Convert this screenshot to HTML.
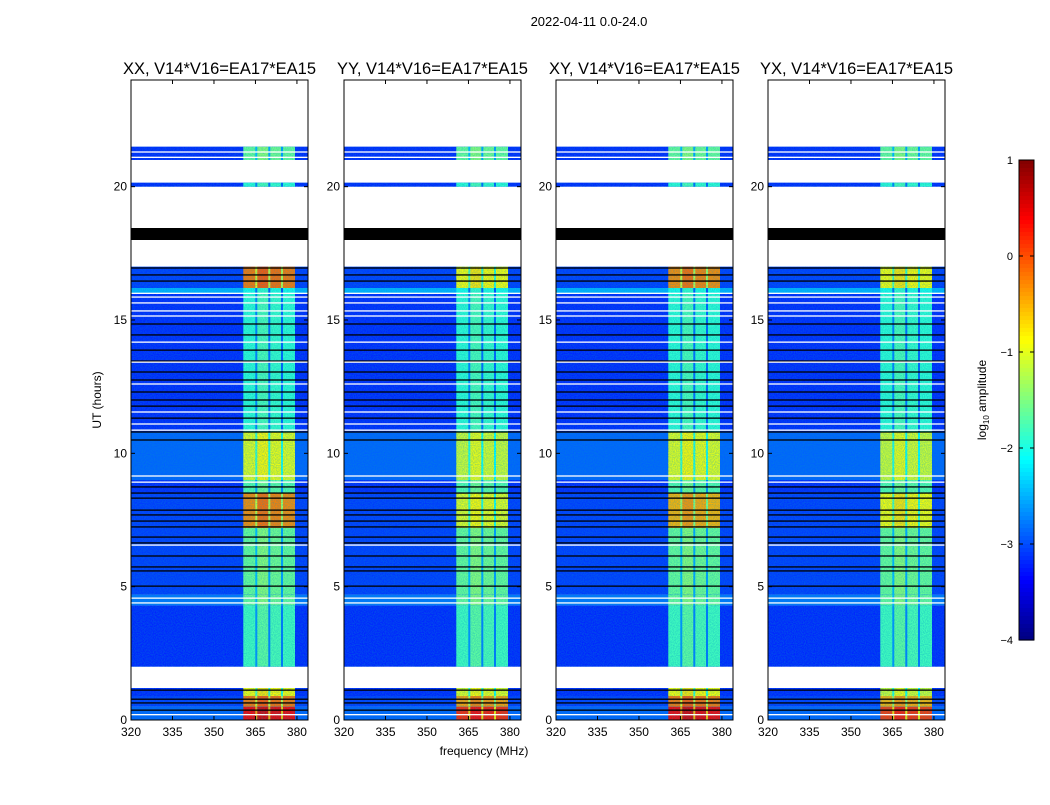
<!DOCTYPE html>
<html><head><meta charset="utf-8">
<style>
body{margin:0;background:#fff;}
svg text{font-family:"Liberation Sans",sans-serif;fill:#000;}
</style></head>
<body>
<svg id="fig" width="1050" height="800" xmlns="http://www.w3.org/2000/svg">
<defs>
<filter id="noise" x="0" y="0" width="100%" height="100%">
<feTurbulence type="fractalNoise" baseFrequency="0.9" numOctaves="2" seed="3"/>
<feColorMatrix type="matrix" values="0 0 0 0 0  0 0 0 0 0.3  0 0 0 0 0.6  0 0 0 -2.2 1.6"/>
</filter>
</defs>
<rect width="1050" height="800" fill="#fff"/>
<text x="589" y="26" font-size="13" text-anchor="middle">2022-04-11 0.0-24.0</text>
<text transform="translate(101,400) rotate(-90)" font-size="12" text-anchor="middle">UT (hours)</text>
<text x="484" y="755" font-size="12" text-anchor="middle">frequency (MHz)</text>
<g id="panels"></g>
<g id="cbar"></g>
</svg>
<script>
// ---- data ----
const panelTitles = ["XX, V14*V16=EA17*EA15","YY, V14*V16=EA17*EA15","XY, V14*V16=EA17*EA15","YX, V14*V16=EA17*EA15"];
const segStart = [0,0.5,0.9,2.0,4.3,4.7,7.2,8.5,9.0,10.8,16.0,16.2,20.0,21.0];
const segEnd   = [0.5,0.9,1.2,4.3,4.7,7.2,8.5,9.0,10.8,16.0,16.2,17.0,20.15,21.5];
const segBg    = [-2.9,-3.1,-3.2,-3.2,-2.8,-3.1,-3.1,-3.2,-2.9,-3.2,-2.5,-3.1,-3.2,-3.2];
const bandXX = [0.4,-0.2,-0.9,-1.8,-1.6,-1.6,-0.3,-1.7,-1.0,-1.9,-2.0,-0.2,-1.9,-1.6];
const bandYY = [0.2,-0.4,-1.0,-1.8,-1.6,-1.6,-1.0,-1.7,-1.1,-1.9,-2.0,-0.9,-1.9,-1.6];
const bandXY = [0.4,-0.2,-0.9,-1.8,-1.6,-1.6,-0.5,-1.7,-1.0,-1.9,-2.0,-0.3,-1.9,-1.6];
const bandYX = [0.1,-0.5,-1.1,-1.8,-1.6,-1.6,-0.9,-1.7,-1.1,-1.9,-2.0,-0.9,-1.9,-1.6];
const bandLevels = [bandXX,bandYY,bandXY,bandYX];
const subStart = [360.6,365.3,370.0,374.6];
const subEnd   = [365.3,370.0,374.6,379.3];
const subOffset = [0,0.15,0.05,0];
const blackBlock = [18.0,18.45];
const blackLines = [0.37,0.64,0.78,1.12,5.02,5.59,5.74,6.15,6.64,6.86,7.24,7.46,7.69,7.87,8.32,8.51,8.74,10.5,10.8,11.32,11.77,12.0,12.3,12.75,13.05,13.46,13.87,14.44,14.85,16.46,16.69,16.95];
const whiteLines = [0.2,4.39,4.57,6.56,8.92,9.15,10.87,11.1,11.55,12.6,13.42,14.17,15.15,15.34,15.64,15.86,16.0,21.1,21.3];
const yTicks = [0,5,10,15,20];
const xTicks = [320,335,350,365,380];
const cbTicks = [1,0,-1,-2,-3,-4];
// ---- layout ----
const panelLeft=[131,344,556,768], PW=177, PT=80, PB=720;
const F0=320,F1=384,H0=0,H1=24;
const yH=h=>PB-(h-H0)/(H1-H0)*(PB-PT);
const xF=(L,f)=>L+(f-F0)/(F1-F0)*PW;
function jet(v){let t=(v+4)/5;t=Math.max(0,Math.min(1,t));
 const c=x=>Math.max(0,Math.min(1,x));
 const r=c(Math.min(4*t-1.5,-4*t+4.5)),g=c(Math.min(4*t-0.5,-4*t+3.5)),b=c(Math.min(4*t+0.5,-4*t+2.5));
 return `rgb(${Math.round(r*255)},${Math.round(g*255)},${Math.round(b*255)})`;}
const NS="http://www.w3.org/2000/svg";
function mk(tag,attrs,parent){const e=document.createElementNS(NS,tag);for(const k in attrs)e.setAttribute(k,attrs[k]);parent.appendChild(e);return e;}
const root=document.getElementById('panels');
panelLeft.forEach((L,p)=>{
 const g=mk('g',{},root);
 
 
 const t=mk('text',{x:L+PW/2,y:74,'font-size':16.5,'text-anchor':'middle'},g);t.textContent=panelTitles[p];
 
 
 segStart.forEach((s,i)=>{
  const y0=yH(segEnd[i]),y1=yH(s);
  const r=mk('rect',{x:L,y:y0,width:PW,height:y1-y0,fill:jet(segBg[i])},g);
  
  
  subStart.forEach((f,k)=>{
   const v=bandLevels[p][i]+subOffset[k];
   const b=mk('rect',{x:xF(L,f),y:y0,width:xF(L,subEnd[k])-xF(L,f),height:y1-y0,fill:jet(v)},g);
   
   
   if(k>0){const gp=mk('rect',{x:xF(L,f)-1,y:y0,width:2,height:y1-y0,fill:jet(v-1.0)},g);
    
    }
  });
  const n=mk('rect',{x:L,y:y0,width:PW,height:y1-y0,filter:'url(#noise)',opacity:0.35},g);
  
  
 });
 const bb=mk('rect',{x:L,y:yH(blackBlock[1]),width:PW,height:yH(blackBlock[0])-yH(blackBlock[1]),fill:'#000'},g);
 
 
 blackLines.forEach(h=>{const l=mk('rect',{x:L,y:yH(h)-0.65,width:PW,height:1.3,fill:'#000'},g);
  
  });
 whiteLines.forEach(h=>{const l=mk('rect',{x:L,y:yH(h)-0.65,width:PW,height:1.3,fill:'#fff'},g);
  
  });
 const fr=mk('rect',{x:L,y:PT,width:PW,height:PB-PT,fill:'none',stroke:'#000','stroke-width':1},g);
 
 
 yTicks.forEach(v=>{const y=yH(v);
  mk('line',{x1:L,x2:L+4,y1:y,y2:y,stroke:'#000'},g);mk('line',{x1:L+PW,x2:L+PW-4,y1:y,y2:y,stroke:'#000'},g);
  const tx=mk('text',{x:L-4,y:y+4,'font-size':12,'text-anchor':'end'},g);tx.textContent=v;
  
  });
 xTicks.forEach(v=>{const x=xF(L,v);
  mk('line',{x1:x,x2:x,y1:PB,y2:PB-4,stroke:'#000'},g);mk('line',{x1:x,x2:x,y1:PT,y2:PT+4,stroke:'#000'},g);
  const tx=mk('text',{x:x,y:PB+16,'font-size':12,'text-anchor':'middle'},g);tx.textContent=v;
  
  });
});
// colorbar
const cb=document.getElementById('cbar');
const CX=1019,CW=15,CT=160,CB=640;
for(let i=0;i<120;i++){const v=1-5*(i+0.5)/120;
 mk('rect',{x:CX,y:CT+i*(CB-CT)/120,width:CW,height:(CB-CT)/120+0.6,fill:jet(v)},cb);}
mk('rect',{x:CX,y:CT,width:CW,height:CB-CT,fill:'none',stroke:'#000'},cb);
cbTicks.forEach(v=>{const y=CT+(1-v)/5*(CB-CT);
 mk('line',{x1:CX,x2:CX+4,y1:y,y2:y,stroke:'#000'},cb);mk('line',{x1:CX+CW,x2:CX+CW-4,y1:y,y2:y,stroke:'#000'},cb);
 const tx=mk('text',{x:CX-6,y:y+4,'font-size':11,'text-anchor':'end'},cb);tx.textContent=(v<0?'\u2212'+(-v):v);
 
 });
const cl=mk('text',{transform:'translate(986,400) rotate(-90)','font-size':12,'text-anchor':'middle'},cb);
cl.innerHTML='log<tspan font-size="8" dy="3">10</tspan><tspan dy="-3"> amplitude</tspan>';


</script>
</body></html>
